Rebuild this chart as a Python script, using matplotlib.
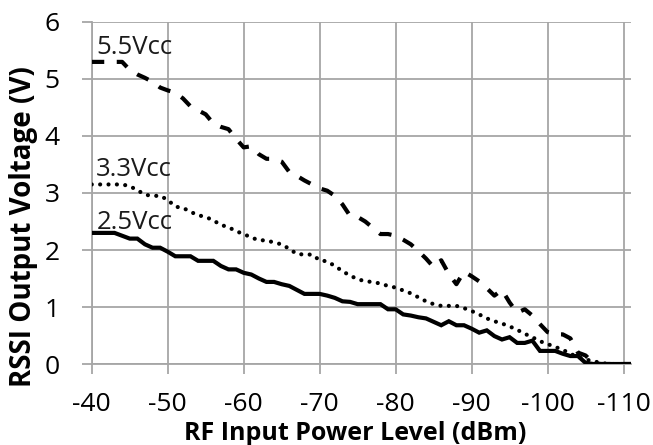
import matplotlib
matplotlib.use("Agg")
import matplotlib.pyplot as plt
import numpy as np

plt.rcParams['font.family'] = ['Open Sans', 'DejaVu Sans']

power_dbm = list(range(-40, -112, -1))

v_2_5 = [2.30, 2.30, 2.30, 2.30, 2.25, 2.20, 2.20, 2.10, 2.04, 2.04,
         1.97, 1.89, 1.89, 1.89, 1.81, 1.81, 1.81, 1.72, 1.66, 1.66,
         1.60, 1.57, 1.50, 1.44, 1.44, 1.40, 1.37, 1.30, 1.23, 1.23,
         1.23, 1.20, 1.16, 1.10, 1.09, 1.05, 1.05, 1.05, 1.05, 0.96,
         0.96, 0.87, 0.85, 0.82, 0.80, 0.74, 0.68, 0.75, 0.68, 0.68,
         0.62, 0.55, 0.59, 0.49, 0.43, 0.47, 0.37, 0.37, 0.41, 0.23,
         0.23, 0.23, 0.18, 0.14, 0.14, 0.02, 0.00, 0.00, 0.00, 0.00,
         0.00, 0.00]

v_3_3 = [3.15, 3.15, 3.15, 3.15, 3.15, 3.12, 3.05, 2.97, 2.95, 2.95,
         2.88, 2.76, 2.74, 2.67, 2.61, 2.58, 2.52, 2.44, 2.40, 2.33,
         2.28, 2.22, 2.17, 2.17, 2.13, 2.10, 2.02, 1.93, 1.92, 1.92,
         1.82, 1.80, 1.72, 1.63, 1.55, 1.49, 1.45, 1.44, 1.41, 1.37,
         1.34, 1.29, 1.24, 1.17, 1.10, 1.05, 1.02, 1.02, 1.02, 0.98,
         0.93, 0.87, 0.80, 0.75, 0.71, 0.66, 0.60, 0.53, 0.47, 0.40,
         0.35, 0.30, 0.25, 0.18, 0.12, 0.08, 0.05, 0.02, 0.00, 0.00,
         0.00, 0.00]

v_5_5 = [5.30, 5.30, 5.30, 5.30, 5.30, 5.16, 5.08, 5.02, 4.95, 4.85,
         4.80, 4.76, 4.66, 4.52, 4.45, 4.38, 4.22, 4.16, 4.12, 3.95,
         3.80, 3.82, 3.68, 3.60, 3.60, 3.55, 3.37, 3.30, 3.22, 3.15,
         3.08, 3.04, 2.95, 2.80, 2.60, 2.58, 2.50, 2.39, 2.28, 2.28,
         2.25, 2.18, 2.10, 1.98, 1.85, 1.70, 1.82, 1.58, 1.40, 1.62,
         1.54, 1.45, 1.33, 1.20, 1.30, 1.08, 0.90, 0.96, 0.85, 0.70,
         0.56, 0.52, 0.52, 0.45, 0.20, 0.15, 0.02, 0.00, 0.00, 0.00,
         0.00, 0.00]

series_labels = ["5.5Vcc", "3.3Vcc", "2.5Vcc"]
label_pos = [(-40.6, 5.43), (-40.6, 3.30), (-40.6, 2.36)]

x_ticks = [-40, -50, -60, -70, -80, -90, -100, -110]
y_ticks = [0, 1, 2, 3, 4, 5, 6]

W, H = 653, 445
fig = plt.figure(figsize=(W / 100, H / 100), dpi=100)
ax = fig.add_axes([0.1405, 0.1820, 0.826, 0.7686])

grid_c = '#a6a6a6'
ax.plot(power_dbm, v_2_5, color='black', lw=3.0, solid_joinstyle='miter', zorder=3)
ax.plot(power_dbm, v_3_3, color='black', lw=3.0, linestyle=(0, (0.01, 2.0)),
        dash_capstyle='round', zorder=3)
ax.plot(power_dbm, v_5_5, color='black', lw=3.0, linestyle=(0, (3.0, 3.0)),
        dash_capstyle='butt', zorder=3)

for lab, (lx, ly) in zip(series_labels, label_pos):
    ax.text(lx, ly, lab, fontsize=18.5, ha='left', va='baseline', color='#1a1a1a', zorder=4)

ax.set_xlim(-40, -111)
ax.set_ylim(0, 6)
ax.set_xticks(x_ticks)
ax.set_yticks(y_ticks)
ax.set_xticklabels([str(t) for t in x_ticks])
ax.set_yticklabels([str(t) for t in y_ticks])
ax.grid(True, color=grid_c, lw=1.3)
ax.set_axisbelow(True)
for s in ['top', 'right']:
    ax.spines[s].set_visible(False)
for s in ['left', 'bottom']:
    ax.spines[s].set_color(grid_c)
    ax.spines[s].set_linewidth(1.3)
ax.tick_params(axis='both', direction='out', length=7, width=1.3, color=grid_c,
               labelsize=19, labelcolor='black')
ax.tick_params(axis='x', pad=13)
ax.tick_params(axis='y', pad=16)

fig.text(355.5 / W, 1 - 440 / H, 'RF Input Power Level (dBm)', fontsize=18,
         fontweight='bold', ha='center', va='baseline')
fig.text(31 / W, 1 - 226.5 / H, 'RSSI Output Voltage (V)', fontsize=20,
         fontweight='bold', ha='center', va='baseline', rotation=90,
         rotation_mode='anchor')

fig.savefig('out.png', dpi=100)
